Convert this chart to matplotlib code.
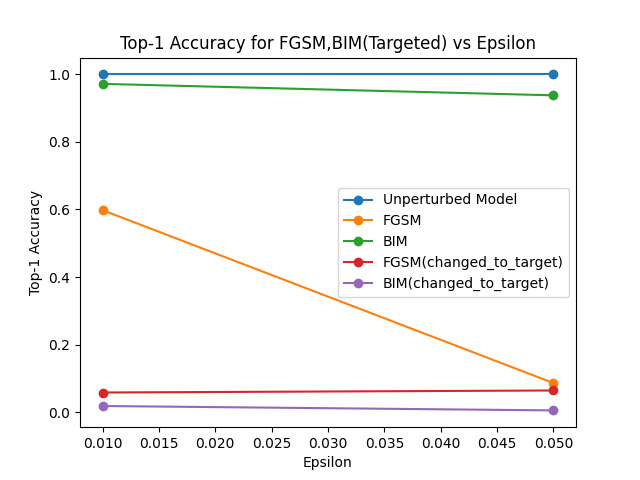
import matplotlib
matplotlib.use("Agg")
import matplotlib.pyplot as plt

epsilons = [0.01, 0.05]
unperturbed = [1.0, 1.0]
fgsm = [0.598, 0.086]
bim = [0.972, 0.938]
fgsm_target = [0.058, 0.064]
bim_target = [0.018, 0.005]

plt.figure(figsize=(6.4, 4.8), dpi=100)
plt.plot(epsilons, unperturbed, marker='o', label='Unperturbed Model')
plt.plot(epsilons, fgsm, marker='o', label='FGSM')
plt.plot(epsilons, bim, marker='o', label='BIM')
plt.plot(epsilons, fgsm_target, marker='o', label='FGSM(changed_to_target)')
plt.plot(epsilons, bim_target, marker='o', label='BIM(changed_to_target)')

plt.xlabel("Epsilon")
plt.ylabel("Top-1 Accuracy")
plt.title("Top-1 Accuracy for FGSM,BIM(Targeted) vs Epsilon")
plt.legend()
plt.savefig("out.png")
